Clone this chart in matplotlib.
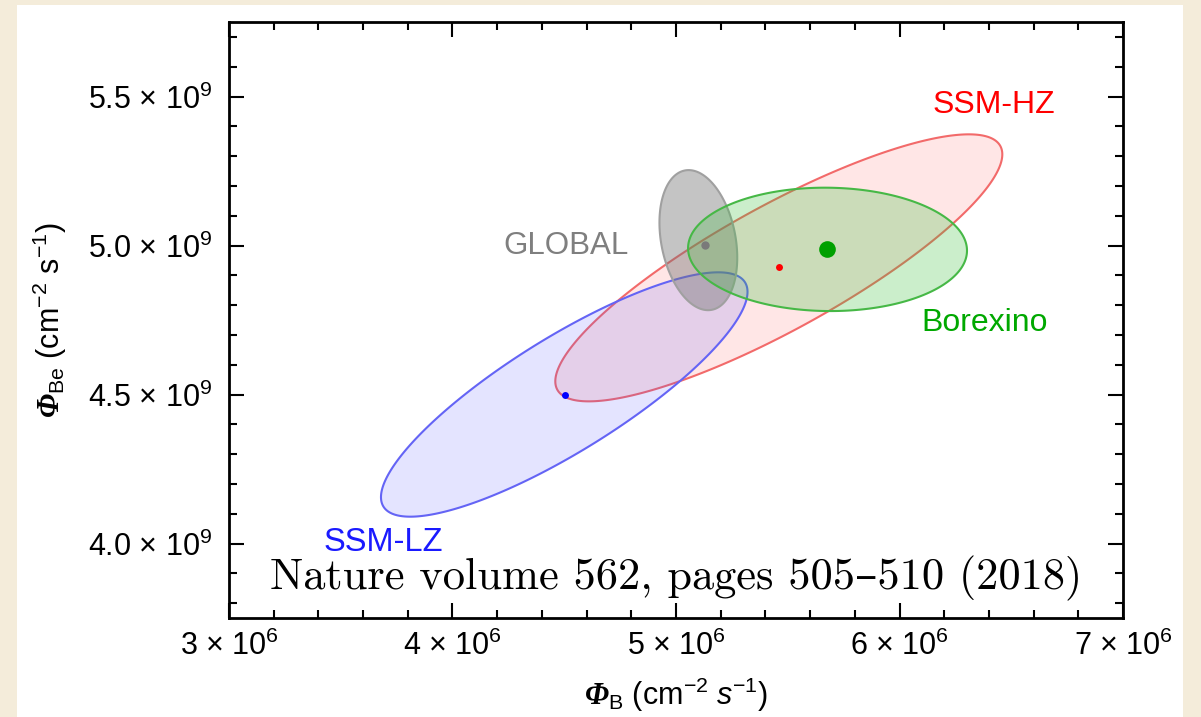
import numpy as np
import matplotlib
matplotlib.use('Agg')
import matplotlib.pyplot as plt
from matplotlib.patches import Rectangle
from matplotlib.ticker import FixedLocator, MultipleLocator, FuncFormatter

plt.rcParams['font.family'] = ['Liberation Sans', 'DejaVu Sans']
plt.rcParams['mathtext.fontset'] = 'custom'
plt.rcParams['mathtext.rm'] = 'Liberation Sans'
plt.rcParams['mathtext.it'] = 'Liberation Sans:italic'
plt.rcParams['mathtext.sf'] = 'Liberation Sans:italic'
# bold slot carries the slanted serif Phi of the axis labels
plt.rcParams['mathtext.bf'] = 'Liberation Serif:italic:bold'

# 1-sigma regions: centre, half extents along each axis, correlation
names = ['SSM-HZ', 'SSM-LZ', 'GLOBAL', 'Borexino']
center_B = [5.46e6, 4.50e6, 5.10e6, 5.678e6]
center_Be = [4.925e9, 4.50e9, 5.018e9, 4.987e9]
half_B = [1.00e6, 0.82e6, 0.174e6, 0.624e6]
half_Be = [0.448e9, 0.41e9, 0.235e9, 0.207e9]
corr = [0.85, 0.84, -0.25, -0.02]

# best-fit points
point_B = [5.461e6, 4.503e6, 5.13e6, 5.676e6]
point_Be = [4.927e9, 4.50e9, 5.003e9, 4.987e9]

label_pos_B = [6.42e6, 3.69e6, 4.51e6, 6.38e6]
label_pos_Be = [5.47e9, 4.005e9, 5.0e9, 4.74e9]
label_size = [23, 23.5, 22.5, 23]

edge_cols = ['#f26a6a', '#6464f5', '#a0a0a0', '#46b846']
fill_cols = [(1, 0.2, 0.2, 0.12), (0.3, 0.3, 1, 0.15),
             (0.45, 0.45, 0.45, 0.42), (0.2, 0.75, 0.2, 0.25)]
text_cols = ['#ff0000', '#1a1aff', '#7f7f7f', '#00a800']
dot_cols = ['#ff0000', '#0000ff', '#7a7a7a', '#00a000']
dot_size = [5, 5, 6, 12]

fig = plt.figure(figsize=(12.01, 7.17), dpi=100, facecolor='#f4ecda')
fig.patches.append(Rectangle((17 / 1201, 0), 1166 / 1201, 712 / 717,
                             transform=fig.transFigure, facecolor='white',
                             edgecolor='none', zorder=-5))
ax = fig.add_axes([229 / 1201, 1 - 618 / 717, 894 / 1201, 596 / 717])
ax.set_facecolor('none')

t = np.linspace(0, 2 * np.pi, 400)
for i in range(len(names)):
    d = np.arccos(corr[i])
    xs = center_B[i] + half_B[i] * np.cos(t)
    ys = center_Be[i] + half_Be[i] * np.cos(t - d)
    ax.fill(xs, ys, facecolor=fill_cols[i], edgecolor=edge_cols[i], lw=1.5, zorder=2 + i)
    ax.plot(point_B[i], point_Be[i], 'o', ms=dot_size[i], color=dot_cols[i],
            mec='none', zorder=10)
    ax.text(label_pos_B[i], label_pos_Be[i], names[i], color=text_cols[i],
            fontsize=label_size[i], ha='center', va='center', zorder=11)

ax.text(5.0e6, 3.882e9, 'Nature volume 562, pages 505\u2013510 (2018)',
        family=['cmr10', 'DejaVu Serif'], fontsize=32, ha='center', va='center',
        zorder=12)

ax.set_xlim(3e6, 7e6)
ax.set_ylim(3.75e9, 5.75e9)
ax.xaxis.set_major_locator(FixedLocator([3e6, 4e6, 5e6, 6e6, 7e6]))
ax.xaxis.set_minor_locator(MultipleLocator(0.2e6))
ax.yaxis.set_major_locator(FixedLocator([4.0e9, 4.5e9, 5.0e9, 5.5e9]))
ax.yaxis.set_minor_locator(MultipleLocator(0.1e9))
ax.xaxis.set_major_formatter(FuncFormatter(lambda v, p: '%d \u00d7 10$^{6}$' % round(v / 1e6)))
ax.yaxis.set_major_formatter(FuncFormatter(lambda v, p: '%.1f \u00d7 10$^{9}$' % (v / 1e9)))

ax.tick_params(which='both', direction='in', top=True, right=True, width=1.5)
ax.tick_params(which='major', length=11, labelsize=22)
ax.tick_params(which='minor', length=6)
ax.tick_params(axis='y', which='major', pad=12)
ax.tick_params(axis='x', which='major', pad=9)
for s in ax.spines.values():
    s.set_linewidth(2)

ax.set_xlabel(r'$\mathbf{Φ}_{\rm B}\ ({\rm cm}^{-2}\ \mathsf{s}^{-1})$', fontsize=22, labelpad=10)
ax.set_ylabel(r'$\mathbf{Φ}_{\rm Be}\ ({\rm cm}^{-2}\ {\rm s}^{-1})$', fontsize=22, labelpad=14)

fig.savefig('out.png', dpi=100, facecolor=fig.get_facecolor())
